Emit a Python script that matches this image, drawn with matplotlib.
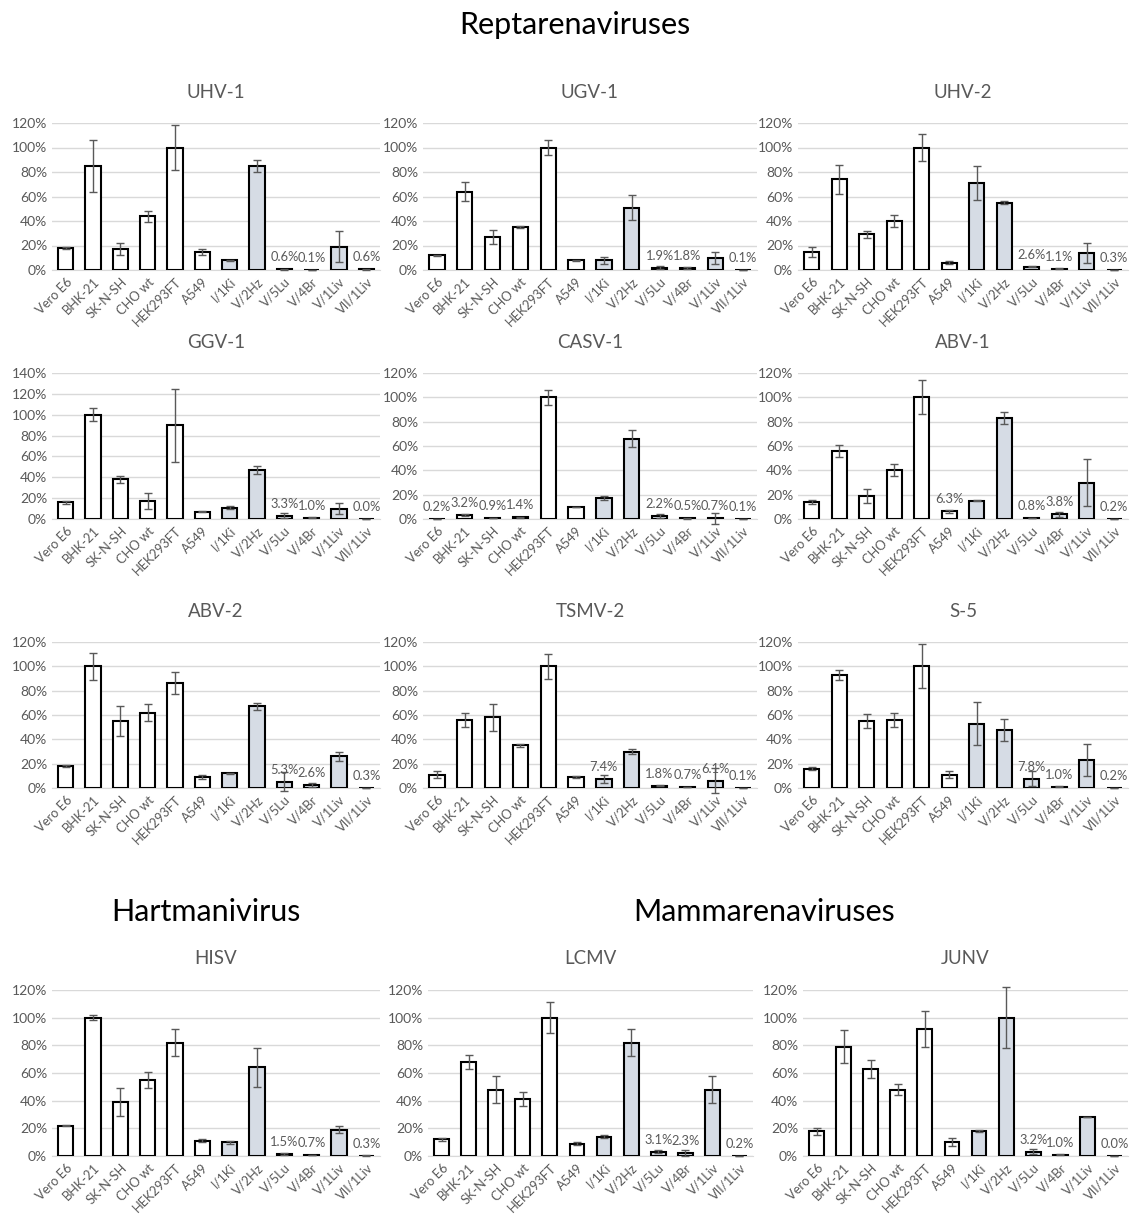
import matplotlib
matplotlib.use("Agg")
import matplotlib.pyplot as plt

plt.rcParams['font.family'] = ['Lato', 'DejaVu Sans']

# cell lines on the x axis
cells = ["Vero E6", "BHK-21", "SK-N-SH", "CHO wt", "HEK293FT", "A549",
         "I/1Ki", "V/2Hz", "V/5Lu", "V/4Br", "V/1Liv", "VII/1Liv"]

# relative values (%) and error bars per virus
uhv1 = [18, 85, 17, 44, 100, 15, 8, 85, 0.6, 0.1, 19, 0.6]
uhv1_err = [1, 21, 5, 4.5, 18, 2.5, 0.5, 5, 0.2, 0.1, 12.5, 0.3]
ugv1 = [12, 64, 27, 35, 100, 8, 8, 51, 1.9, 1.8, 10, 0.1]
ugv1_err = [0.5, 7.5, 6, 1, 6, 0.5, 3, 10, 1, 1, 5, 0.05]
uhv2 = [15, 74, 29, 40, 100, 6, 71, 55, 2.6, 1.1, 14, 0.3]
uhv2_err = [4, 12, 3, 5, 11, 1, 14, 1.5, 0.5, 0.5, 8, 0.1]
ggv1 = [16, 100, 38, 17, 90, 7, 11, 47, 3.3, 1.0, 10, 0.0]
ggv1_err = [1.5, 6, 3.5, 7.5, 35, 0.5, 1, 4, 2, 0.5, 5.5, 0]
casv1 = [0.2, 3.2, 0.9, 1.4, 100, 10, 17, 66, 2.2, 0.5, 0.7, 0.1]
casv1_err = [0.1, 0.5, 0.2, 0.3, 6, 0, 1.5, 7, 1.5, 0.2, 4.5, 0.05]
abv1 = [14, 56, 19, 40, 100, 6.3, 15, 83, 0.8, 3.8, 30, 0.2]
abv1_err = [2, 5, 6, 5, 14, 1, 0.5, 5, 0.3, 2, 19, 0.1]
abv2 = [18, 100, 55, 62, 86, 9, 12, 67, 5.3, 2.6, 26, 0.3]
abv2_err = [0.5, 11, 12, 7, 9, 1.5, 0.3, 3, 8, 1.5, 3.5, 0.1]
tsmv2 = [11, 56, 58, 35, 100, 9, 7.4, 30, 1.8, 0.7, 6.1, 0.1]
tsmv2_err = [3, 6, 11, 1, 10, 1, 3, 2, 0.5, 0.2, 10, 0.05]
s5 = [16, 93, 55, 56, 100, 11, 53, 48, 7.8, 1.0, 23, 0.2]
s5_err = [1, 4, 5.5, 6, 18, 3, 18, 9, 6.5, 0.3, 13.5, 0.1]
hisv = [22, 100, 39, 55, 82, 11, 10, 64, 1.5, 0.7, 19, 0.3]
hisv_err = [0.5, 2, 10, 6, 10, 1, 1, 14, 0.5, 0.1, 2.5, 0.1]
lcmv = [12, 68, 48, 41, 100, 9, 14, 82, 3.1, 2.3, 48, 0.2]
lcmv_err = [1, 5, 9.5, 5, 11, 1, 1, 9.5, 1, 2, 9.5, 0.05]
junv = [18, 79, 63, 48, 92, 10, 18, 100, 3.2, 1.0, 28, 0.0]
junv_err = [2.5, 12, 6.5, 4, 13, 3, 1, 22, 1.5, 0.3, 0, 0]

# which bars carry a value label
lab_std = [8, 9, 11]

W, H = 1130, 1214
fig = plt.figure(figsize=(W / 100, H / 100), dpi=100)

# (name, values, errors, labelled bars, ymax, left, right, top, bottom) in pixels
panels = [
    ("UHV-1", uhv1, uhv1_err, lab_std, 120, 52, 380, 123, 270),
    ("UGV-1", ugv1, ugv1_err, lab_std, 120, 423, 757, 123, 270),
    ("UHV-2", uhv2, uhv2_err, lab_std, 120, 798, 1128, 123, 270),
    ("GGV-1", ggv1, ggv1_err, lab_std, 140, 52, 380, 373, 519),
    ("CASV-1", casv1, casv1_err, [0, 1, 2, 3, 8, 9, 10, 11], 120, 423, 757, 373, 519),
    ("ABV-1", abv1, abv1_err, [5, 8, 9, 11], 120, 798, 1128, 373, 519),
    ("ABV-2", abv2, abv2_err, lab_std, 120, 52, 380, 642, 788),
    ("TSMV-2", tsmv2, tsmv2_err, [6, 8, 9, 10, 11], 120, 423, 757, 642, 788),
    ("S-5", s5, s5_err, lab_std, 120, 798, 1128, 642, 788),
    ("HISV", hisv, hisv_err, lab_std, 120, 52, 380, 990, 1156),
    ("LCMV", lcmv, lcmv_err, lab_std, 120, 428, 753, 990, 1156),
    ("JUNV", junv, junv_err, lab_std, 120, 803, 1128, 990, 1156),
]

gray = "#595959"
colors = ["white"] * 6 + ["#d6dce5"] * 6
x = list(range(len(cells)))

for name, vals, errs, labs, ymax, l, r, t, b in panels:
    ax = fig.add_axes([l / W, 1 - b / H, (r - l) / W, (b - t) / H])
    ax.bar(x, vals, width=0.55, color=colors, edgecolor="black", linewidth=1.5, zorder=3)
    eb = ax.errorbar(x, vals, yerr=errs, fmt="none", ecolor=gray, elinewidth=1,
                     capsize=3, capthick=1, zorder=4)
    for art in eb.lines[1] + eb.lines[2]:
        art.set_clip_on(False)
    for i in labs:
        ax.annotate(f"{vals[i]:.1f}%", (i, vals[i]), xytext=(0, 6),
                    textcoords="offset pixels", ha="center", va="bottom",
                    fontsize=9.3, color=gray)
    ax.set_xlim(-0.5, len(cells) - 0.5)
    ax.set_ylim(0, ymax)
    ax.set_yticks(range(0, ymax + 1, 20))
    ax.set_yticklabels([f"{v}%" for v in range(0, ymax + 1, 20)])
    ax.set_xticks(x)
    ax.set_xticklabels(cells, rotation=45, ha="right", rotation_mode="anchor")
    ax.tick_params(axis="both", length=0, colors=gray, labelsize=10)
    ax.tick_params(axis="x", labelsize=9.3, pad=4)
    ax.grid(axis="y", color="#d9d9d9", linewidth=1, zorder=0)
    ax.set_axisbelow(True)
    for s in ["top", "right", "left"]:
        ax.spines[s].set_visible(False)
    ax.spines["bottom"].set_color("#d9d9d9")
    fig.text((l + r) / 2 / W, 1 - (t - 31) / H, name, ha="center", va="center",
             fontsize=13.5, color=gray)

fig.text(575 / W, 1 - 25 / H, "Reptarenaviruses", ha="center", va="center", fontsize=22)
fig.text(206 / W, 1 - 912 / H, "Hartmanivirus", ha="center", va="center", fontsize=22)
fig.text(764 / W, 1 - 912 / H, "Mammarenaviruses", ha="center", va="center", fontsize=22)

fig.savefig("out.png", dpi=100)
